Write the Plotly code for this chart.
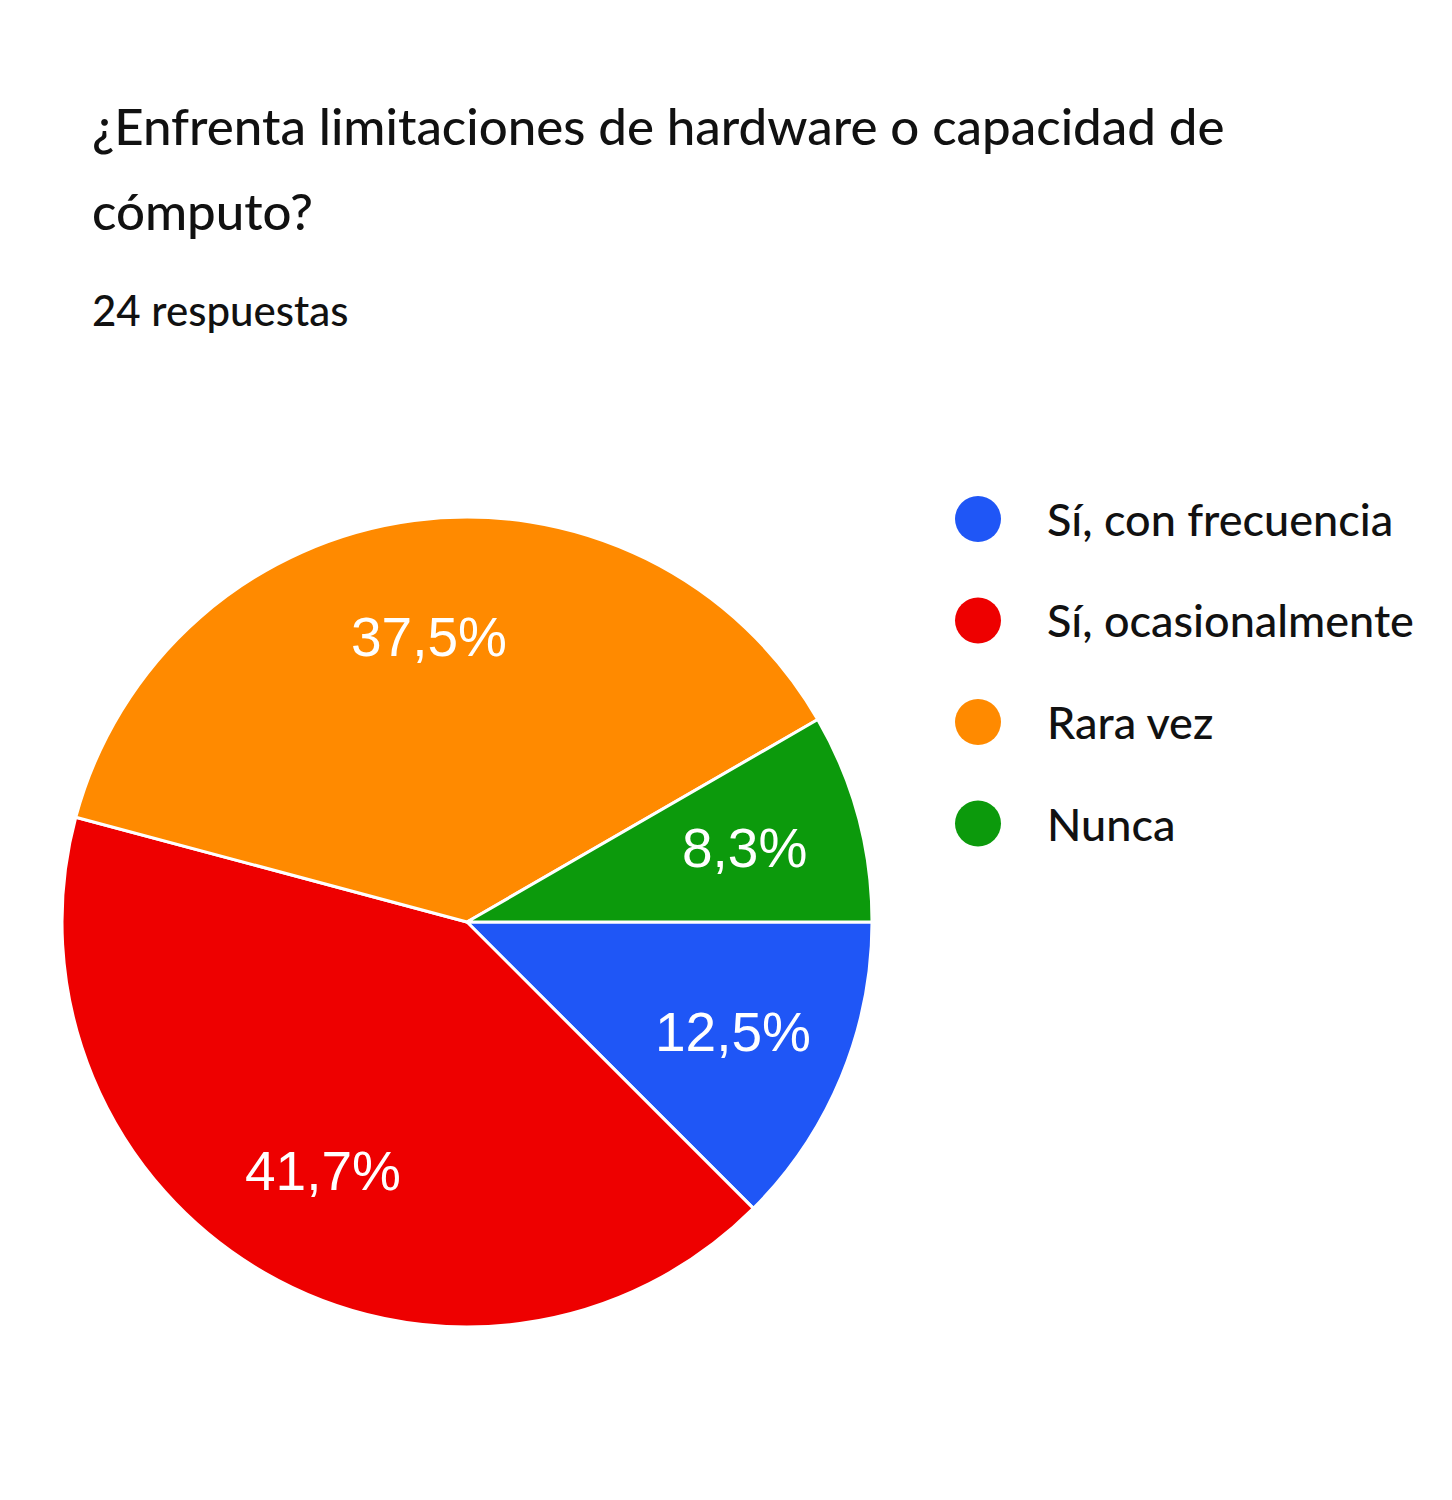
import math
import plotly.graph_objects as go

categories = ["Sí, con frecuencia", "Sí, ocasionalmente", "Rara vez", "Nunca"]
counts = [3, 10, 9, 2]
colors = ["#1f56f6", "#ee0000", "#ff8a00", "#0c9a0c"]
title_lines = ["¿Enfrenta limitaciones de hardware o capacidad de", "cómputo?"]
subtitle = "24 respuestas"

W, H = 1452, 1500
cx, cy, r = 467, 922, 405

fig = go.Figure()
fig.add_trace(go.Pie(
    labels=categories,
    values=counts,
    sort=False,
    direction="clockwise",
    rotation=90,
    marker=dict(colors=colors, line=dict(color="white", width=3)),
    textinfo="none",
    showlegend=False,
    hoverinfo="label+percent",
    domain=dict(x=[(cx - r) / W, (cx + r) / W], y=[(H - cy - r) / H, (H - cy + r) / H]),
))

annotations = []

# slice percentage labels, placed along each slice's mid-angle (clockwise from 3 o'clock)
total = sum(counts)
cum = 0
for c in counts:
    frac = c / total
    mid = (cum + frac / 2) * 2 * math.pi
    cum += frac
    rl = 0.71 * r
    px = cx + rl * math.cos(mid)
    py = cy + rl * math.sin(mid)
    label = f"{frac * 100:.1f}%".replace(".", ",")
    annotations.append(dict(text=label, x=px / W, y=1 - py / H, xref="paper", yref="paper",
                            xanchor="center", yanchor="middle", showarrow=False,
                            font=dict(family="Liberation Sans, Arial, sans-serif", size=55,
                                      color="white")))

ys = [125, 210]
for line, y in zip(title_lines, ys):
    annotations.append(dict(text=line, x=90 / W, y=1 - y / H, xref="paper", yref="paper",
                            xanchor="left", yanchor="middle", showarrow=False,
                            font=dict(family="Lato", size=51, color="#111111", weight=500)))
annotations.append(dict(text=subtitle, x=90 / W, y=1 - 310 / H, xref="paper", yref="paper",
                        xanchor="left", yanchor="middle", showarrow=False,
                        font=dict(family="Lato", size=42, color="#111111", weight=500)))

shapes = []
leg_y0, leg_dy = 519, 101.5
for i, (cat, col) in enumerate(zip(categories, colors)):
    yc = leg_y0 + i * leg_dy
    rr = 23
    shapes.append(dict(type="circle", xref="paper", yref="paper",
                       x0=(978 - rr) / W, x1=(978 + rr) / W,
                       y0=1 - (yc + rr) / H, y1=1 - (yc - rr) / H,
                       fillcolor=col, line=dict(width=0)))
    annotations.append(dict(text=cat, x=1045 / W, y=1 - yc / H, xref="paper", yref="paper",
                            xanchor="left", yanchor="middle", showarrow=False,
                            font=dict(family="Lato", size=45, color="#111111", weight=500)))

fig.update_layout(
    width=W, height=H,
    margin=dict(l=0, r=0, t=0, b=0),
    paper_bgcolor="white", plot_bgcolor="white",
    separators=",.",
    annotations=annotations,
    shapes=shapes,
)

fig.write_html("out.html")
